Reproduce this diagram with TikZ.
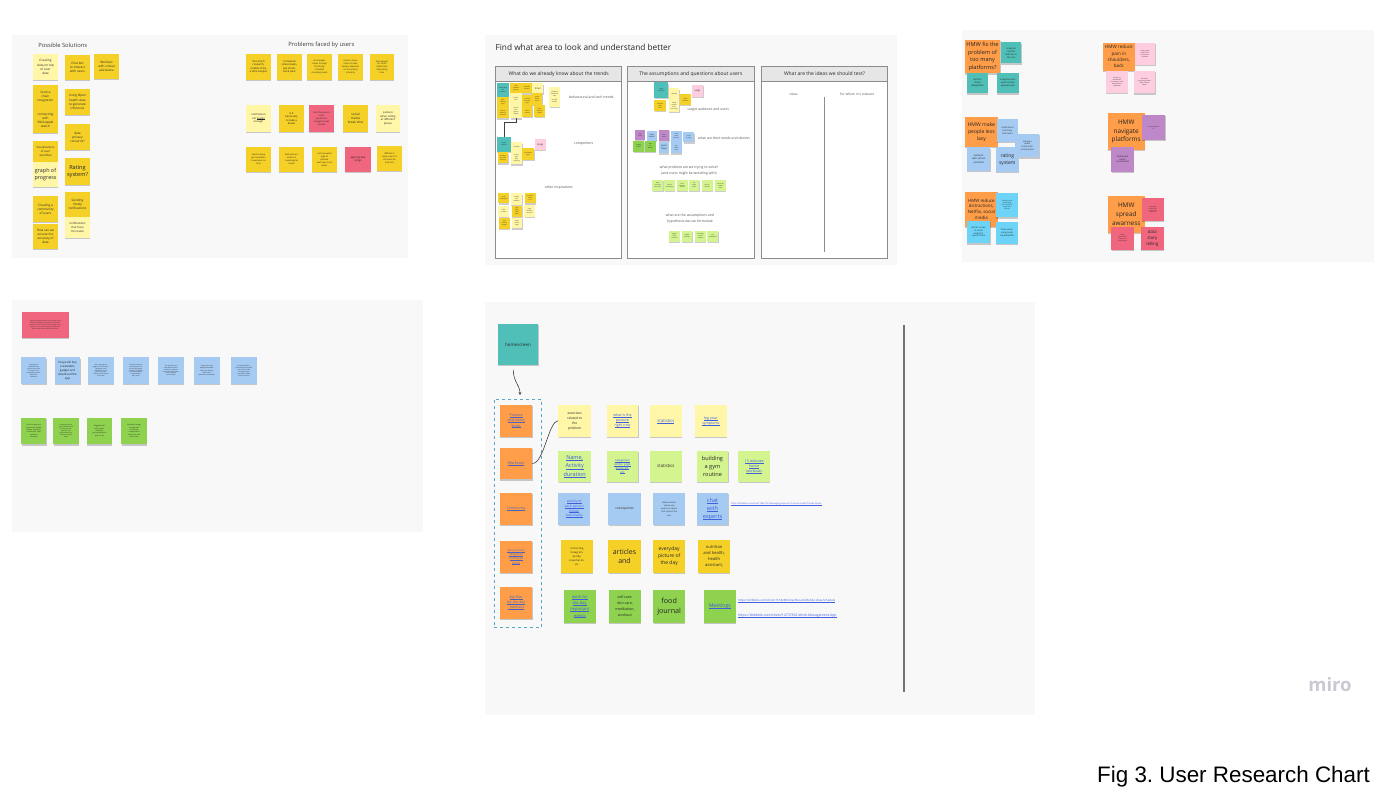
\documentclass[tikz,border=0pt]{standalone}
\usepackage{fontspec}
\setmainfont{Open Sans}
\newfontfamily\capfont{Liberation Sans}
\usetikzlibrary{shadows,arrows.meta}

% sticky colours
\definecolor{cY}{HTML}{F5D128}
\definecolor{cLY}{HTML}{FFF6A8}
\definecolor{cOr}{HTML}{FF9D48}
\definecolor{cTe}{HTML}{4FBFB8}
\definecolor{cLG}{HTML}{D3F48E}
\definecolor{cG}{HTML}{8ED24F}
\definecolor{cBl}{HTML}{A6CBF3}
\definecolor{cCy}{HTML}{6DD3F7}
\definecolor{cPk}{HTML}{FFCDE0}
\definecolor{cRd}{HTML}{F0667E}
\definecolor{cVi}{HTML}{BE87C8}
% board and text colours
\definecolor{board}{HTML}{F8F8F8}
\definecolor{txt}{HTML}{262626}
\definecolor{lnk}{HTML}{3E5FE0}
\definecolor{lnkO}{HTML}{4A63BE}
\definecolor{frameln}{HTML}{8C8C8C}
\definecolor{framehd}{HTML}{E6E6E6}
\definecolor{logo}{HTML}{C9C9D3}

\newlength\lkw
\newcommand\lk[1]{\settowidth\lkw{#1}\rlap{#1}\raisebox{-0.26ex}{\rule{\lkw}{0.06ex}}}

% \stk[style]{name}{x1}{y1}{x2}{y2}{colour}{text}
\newcommand\stk[8][]{\node[stkn,fill=#7,minimum width={#5-#3},minimum height={#6-#4},#1] (#2) at ({(#3+#5)/2},{(#4+#6)/2}) {#8};}

\tikzset{
  stkn/.style={draw=none,inner sep=0.4pt,outer sep=0pt,align=center,text=txt,
    drop shadow={shadow xshift=0.2pt,shadow yshift=-1.3pt,opacity=0.2,fill=black},
    font=\fontsize{2.7}{3.5}\selectfont},
  fs/.style 2 args={font=\fontsize{#1}{#2}\selectfont},
  f0/.style={font=\fontsize{1.5}{1.95}\selectfont},
  f1/.style={font=\fontsize{2.2}{2.9}\selectfont},
  f2/.style={font=\fontsize{2.7}{3.5}\selectfont},
  f3/.style={font=\fontsize{3.1}{4.1}\selectfont},
  lnkt/.style={text=lnk},
  lnko/.style={text=lnkO},
  boardbg/.style={fill=board,draw=none},
  btitle/.style={text=txt!90,font=\fontsize{5.8}{7}\selectfont},
  lbl/.style={text=txt!80,align=center,font=\fontsize{3.4}{4.4}\selectfont},
  framebox/.style={draw=frameln,line width=0.9pt,fill=white},
  framehead/.style={draw=frameln,line width=0.9pt,fill=framehd,text=txt,font=\fontsize{5}{6}\selectfont},
  conn/.style={draw=black!75,line width=0.6pt},
  urlt/.style={anchor=west,text=lnk,inner sep=0pt},
}

\begin{document}
\begin{tikzpicture}[x=1pt,y=-1pt]
\useasboundingbox (0,0) rectangle (1386,800);
\fill[white] (0,0) rectangle (1386,800);

% ---------------- board: solutions and problems ----------------
\fill[boardbg] (12,35) rectangle (408,258);
\node[btitle] (t1) at (62.7,45) {Possible Solutions};
\node[btitle] (t2) at (321.3,45) {Problems faced by users};

\stk[f3]{ps1}{33}{54}{58}{80}{cLY}{Creating\\data on top\\of user\\data}
\stk[f3]{ps2}{65}{55}{90}{80}{cY}{Chat bot\\to interact\\with users}
\stk[f3]{ps3}{94}{54}{119}{79}{cY}{Workout\\with virtual\\assistance}
\stk[f3]{ps4}{33}{85}{58}{108}{cY}{Service\\chain\\integration}
\stk[f3]{ps5}{33}{108}{58}{133}{cY}{connecting\\with\\fitbit/apple\\watch}
\stk[f3]{ps6}{65}{89}{90}{115}{cY}{Using Open\\health data\\to generate\\inference}
\stk[f3]{ps7}{65}{124}{90}{150}{cY}{data\\privacy\\concerns?}
\stk[fs={2.8}{3.8}]{ps8}{33}{141}{58}{162}{cY}{Visualizations\\of user\\workflow}
\stk[fs={5.4}{7.6}]{ps9}{33}{162}{58}{187}{cLY}{graph of\\progress}
\stk[fs={5.6}{7.6}]{ps10}{65}{158}{90}{185}{cY}{Rating\\system?}
\stk[f3]{ps11}{33}{196}{58}{222}{cY}{Creating a\\community\\of users}
\stk[f3]{ps12}{65}{192}{90}{217}{cY}{Sending\\timely\\notifications}
\stk[fs={2.8}{3.8}]{ps13}{65}{217}{90}{238}{cLY}{notifications\\that have\\mini tasks}
\stk[f3]{ps14}{33}{224}{58}{249}{cY}{How can we\\ensure the\\accuracy of\\data}

\stk[f2]{pb1}{246}{54}{271}{80}{cY}{Too much\\research,\\unable to be\\a time keeper}
\stk[f2]{pb2}{277}{54}{302}{80}{cY}{increased\\stress levels,\\eye strain,\\back pain}
\stk[f1]{pb3}{307}{54}{332}{80}{cY}{time keeper\\issues through\\the family\\schedule\\including meals}
\stk[f1]{pb4}{338}{54}{363}{80}{cY}{there is more\\stress to take\\breaks, depends\\on the activity\\intensity}
\stk[f1]{pb5}{370}{54}{394}{80}{cY}{time keeper\\for some\\habits less\\interesting\\time}
\stk[f2]{pb6}{246}{105}{271}{132}{cLY}{notification\\not \lk{buggy}\\enough}
\stk[f2]{pb7}{279}{105}{304}{132}{cY}{is it\\necessary\\to take a\\break}
\stk[f1]{pb8}{309}{105}{334}{132}{cRd}{that the person\\main\\productive\\enough to take\\a break}
\stk[f3]{pb9}{343}{105}{368}{132}{cY}{social\\media\\break time}
\stk[f2]{pb10}{376}{105}{400}{132}{cLY}{posture\\when sitting\\at different\\places}
\stk[f1]{pb11}{246}{147}{271}{172}{cY}{Hard to keep\\up motivation\\to workout on\\time}
\stk[f1]{pb12}{279}{147}{304}{172}{cY}{Bad posture\\results in\\neurological\\issues}
\stk[f1]{pb13}{312}{147}{337}{172}{cY}{not sure what\\type of\\posture\\exercises to do\\when}
\stk[f2]{pb14}{345}{147}{371}{172}{cRd}{appropriate\\songs}
\stk[f1]{pb15}{377}{146}{402}{171}{cY}{difficult to\\keep count of\\the exercise\\and sets}

% ---------------- board: areas to understand ----------------
\fill[boardbg] (485,35) rectangle (897,265);
\node[anchor=west,text=txt,font=\fontsize{8.3}{10}\selectfont] (t3) at (492,47) {Find what area to look and understand better};

\draw[framebox] (495.7,66.7) rectangle (621.7,258);
\node[framehead,minimum width=126,minimum height=14.3,inner sep=0pt] (fa) at (558.7,73.85) {What do we already know about the trends};
\draw[framebox] (627.7,66.7) rectangle (754,258);
\node[framehead,minimum width=126.3,minimum height=14.3,inner sep=0pt] (fb) at (690.85,73.85) {The assumptions and questions about users};
\draw[framebox] (761.7,66.7) rectangle (887.3,258);
\node[framehead,minimum width=125.6,minimum height=14.3,inner sep=0pt] (fc) at (824.5,73.85) {What are the ideas we should test?};

% trends
\stk[f0]{a1}{496.7}{83.3}{509}{96.7}{cTe}{Overlooking\\all\\activities}
\stk[f0]{a2}{510.3}{83.3}{521.7}{93.3}{cY}{daily\\schedule\\planner}
\stk[f0]{a3}{521.7}{83.3}{532.3}{93.3}{cY}{wearable\\trackers}
\stk[fs={2.4}{3}]{a4}{532.3}{83.3}{543.3}{93.3}{cLY}{timer}
\stk[f0]{a5}{496.7}{96.7}{509}{107.7}{cY}{habit\\tracking\\apps}
\stk[f0]{a6}{496.7}{107.7}{509}{118.3}{cY}{remote\\working\\routines}
\stk[f0]{a7}{510.3}{93.3}{521.7}{105}{cLY}{health\\data}
\stk[f0]{a8}{510.3}{105}{521.7}{118.3}{cLY}{screen\\time\\reports\\weekly}
\stk[f0]{a9}{522.3}{95}{532.3}{106.7}{cY}{posture\\reminder\\apps}
\stk[f0]{a10}{522.3}{106.7}{532.3}{116.7}{cY}{online\\classes}
\stk[f0]{a11}{532.3}{93.3}{542.3}{105}{cY}{smart\\watch\\alerts}
\stk[f0]{a12}{534.3}{105}{545}{116.7}{cY}{home\\workout\\videos}
\stk[f0]{a13}{549.3}{87}{560}{107}{cLY}{Evidence\\based self\\care\\\\mindful\\breaks}
\node[lbl] (la1) at (591.3,97.3) {behavioural and tech trends};

\stk[f0]{b1}{496.7}{136.7}{511}{151.7}{cTe}{Target\\audience}
\stk[f0]{b2}{511}{142.3}{522.3}{151.7}{cLY}{Lifestyle}
\stk[f0]{b3}{511}{151.7}{522.3}{164.3}{cLY}{fitness\\apps\\with\\coaching}
\stk[f0]{b4}{497.7}{152.3}{508.3}{163.3}{cY}{students\\and office\\workers}
\stk[f0]{b5}{522.3}{148.3}{534.3}{160}{cY}{meditation\\apps}
\stk[fs={2.4}{3}]{b6}{535}{139}{545.7}{150}{cPk}{vlogs}
\draw[conn] (a8.south) -- ++(0,4) -| (b1.north);
\node[lbl] (la2) at (583.7,143.3) {competitors};
\node[lbl] (la3) at (558.8,187.7) {other inspirations};

\stk[f0]{c1}{498.3}{193.3}{509}{203.3}{cY}{social\\challenges}
\stk[f0]{c2}{511}{193.3}{522.3}{205}{cLY}{streaks\\and\\rewards}
\stk[f0]{c3}{525}{193.3}{535.7}{203.3}{cY}{workout\\music\\lists}
\stk[f0]{c4}{498.3}{205.7}{509}{216.7}{cLY}{calm\\screens}
\stk[f0]{c5}{511.7}{205.7}{522.3}{216.7}{cY}{gym\\apps\\daily\\goals}
\stk[f0]{c6}{524.3}{205}{535}{216.7}{cLY}{yoga\\sessions\\at home}
\stk[f0]{c7}{499}{217.7}{510}{229}{cY}{step\\counter\\badges}
\stk[f0]{c8}{511.7}{217.7}{522.3}{228.3}{cLY}{sleep\\stories\\apps}

% assumptions about users
\stk[f0]{d1}{654.3}{82.3}{668.3}{97.7}{cTe}{Target\\audience}
\stk[f0]{d2}{669}{88.3}{679.3}{100}{cLY}{Lifestyle}
\stk[f0]{d3}{654.3}{100}{666}{111}{cY}{students\\ages\\18--25}
\stk[f0]{d4}{669}{100}{679.3}{111.7}{cLY}{sitting\\at desk\\most\\of the day}
\stk[f0]{d5}{680}{94.3}{691}{105}{cY}{office\\workers}
\stk[fs={2.4}{3}]{d6}{691.7}{85}{703.3}{96.7}{cPk}{vlogs}
\node[lbl] (lb1) at (708.3,109.7) {target audience and users};

\stk[f0]{e1}{635}{130}{645}{140}{cVi}{stay\\active}
\stk[fs={1.9}{2.4}]{e2}{646.7}{131}{656.7}{141}{cBl}{daily\\hassle}
\stk[f0]{e3}{659}{130}{669.3}{141}{cVi}{less\\stress}
\stk[f0]{e4}{671}{131}{681.7}{141.7}{cBl}{keep\\good\\posture}
\stk[f0]{e5}{683.3}{132.3}{694.3}{142.3}{cBl}{more\\energy}
\stk[f0]{e6}{633.3}{141}{644.3}{151.7}{cG}{healthy\\habits}
\stk[f0]{e7}{645}{141}{655.7}{151.7}{cG}{time\\for\\breaks}
\stk[fs={2.3}{2.9}]{e8}{659}{142.3}{669}{153.3}{cBl}{good\\sleep}
\stk[f0]{e9}{671}{142.3}{681.7}{153.3}{cBl}{less\\screen\\time}
\node[lbl] (lb2) at (724,138.3) {what are their needs and desires};

\node[lbl,font=\fontsize{3.4}{6}\selectfont] (lb3) at (689,170.3) {what problem are we trying to solve?\\(and users might be wrestling with)};
\stk[f0]{g1}{652.3}{180}{663.3}{191}{cLG}{back\\pain and\\eye strain}
\stk[f0]{g2}{664.3}{180}{675}{191}{cLG}{lack of\\motivation}
\stk[f0]{g3}{676.7}{180}{687.7}{191}{cLG}{time\\keeping\\issues}
\stk[f0]{g4}{689}{180}{699.3}{191}{cLG}{too\\many\\apps}
\stk[f0]{g5}{701.7}{180}{712.7}{191}{cLG}{lack of\\breaks}
\stk[f0]{g6}{715}{180}{726}{191}{cLG}{too much\\screen\\time}
\node[lbl,font=\fontsize{3.4}{6}\selectfont] (lb4) at (690,218.3) {what are the assumptions and\\hypothesis we can formulate};
\stk[f0]{h1}{669}{231}{680}{241.7}{cLG}{people\\want\\routines}
\stk[f0]{h2}{681.7}{231}{692.3}{241.7}{cLG}{simple\\tracking}
\stk[f0]{h3}{695}{231}{706}{241.7}{cLG}{less daily\\stress\\matters}
\stk[f0]{h4}{707.3}{231}{718.3}{241.7}{cLG}{one\\dashboard}

% ideas to test
\node[lbl,font=\fontsize{3.2}{4}\selectfont] (lc1) at (793.7,94) {Ideas};
\node[lbl,font=\fontsize{3.2}{4}\selectfont] (lc2) at (857,94) {For whom it is relevant};
\draw[draw=frameln,line width=0.8pt] (824.3,96.7) -- (824.3,251.7);

% ---------------- board: how might we ----------------
\fill[boardbg] (962,30) rectangle (1374,262);
\stk[fs={5.6}{7.6}]{hmw1}{964.7}{40}{1000.3}{73.3}{cOr}{HMW fix the\\problem of\\too many\\platforms?}
\stk[fs={2.3}{3}]{m1}{1001}{42.3}{1021.3}{63.3}{cTe}{Integrate\\specific\\features to\\the one}
\stk[fs={2.5}{3.3}]{m2}{967}{72.7}{988}{93.3}{cTe}{Service\\chain\\integration}
\stk[f1]{m3}{997}{72.7}{1018.7}{93.3}{cTe}{Integrated with\\watch/mobile\\app/wearable}

\stk[fs={5.1}{6.8}]{hmw2}{964.7}{117.3}{998}{146.7}{cOr}{HMW make\\people less\\lazy}
\stk[f1]{n1}{997}{119.3}{1018}{141.7}{cBl}{notifications\\that have\\mini tasks}
\stk[f1]{n2}{1015.3}{134}{1039.3}{157.3}{cBl}{Having a\\audio\\channel for\\communities}
\stk[fs={2.5}{3.4}]{n3}{967}{147.3}{990.3}{170.7}{cBl}{workout\\with virtual\\assistant}
\stk[fs={5}{6.6}]{n4}{996}{147.3}{1018.7}{171.7}{cBl}{rating\\system}

\stk[fs={4.4}{5.9}]{hmw3}{964.7}{191.7}{998}{226.7}{cOr}{HMW reduce\\distractions,\\Netflix, social\\media}
\stk[f0]{o1}{996}{193.3}{1018}{217.3}{cCy}{Tracking social\\media usage\\and restricting\\usage after\\set time}
\stk[f1]{o2}{967}{220.7}{990.3}{243.3}{cCy}{Blocks screen\\to social\\media for\\specific time}
\stk[f1]{o3}{996}{221.7}{1018}{244}{cCy}{Timer when\\using social\\media/Netflix}

\stk[fs={4.6}{6.3}]{hmw4}{1103}{42.7}{1134.7}{70.7}{cOr}{HMW reduce\\pain in\\shoulders,\\back}
\stk[f0]{p1}{1134.7}{42.7}{1155.3}{65}{cPk}{using a wrist\\fit sensor for\\bad posture\\detection}
\stk[f0]{p2}{1106}{70.7}{1128}{92.7}{cPk}{using AI to\\recommend\\according to time,\\workouts and\\meditation}
\stk[f0]{p3}{1133.7}{70.7}{1155.3}{93.3}{cPk}{Air shoes,\\using a ergonomic\\desk, smartly\\advice}

\stk[fs={6.4}{8.8}]{hmw5}{1107.7}{113.3}{1144.7}{150}{cOr}{HMW\\navigate\\platforms}
\stk[f0]{q1}{1142}{115}{1165.3}{140}{cVi}{Conversational\\AI}
\stk[f1]{q2}{1111.3}{146.7}{1133.7}{171.7}{cVi}{Dashboard\\colour\\coordinated}

\stk[fs={6.4}{8.8}]{hmw6}{1107.7}{196}{1144.7}{232.7}{cOr}{HMW\\spread\\awarness}
\stk[f0]{r1}{1142}{198.3}{1163.7}{220.7}{cRd}{using open\\health data\\to generate\\inference}
\stk[f0]{r2}{1111.3}{226.7}{1133.7}{250}{cRd}{rating\\system and\\inclusion of\\social media}
\stk[fs={4.3}{5.8}]{r3}{1141}{226.7}{1163.7}{250}{cRd}{data\\story\\telling}

% ---------------- board: persona ----------------
\fill[boardbg] (12,300) rectangle (423,532);
\stk[f0]{w1}{22}{312.3}{68.7}{337.7}{cRd}{Tanya is a college student. She usually sits at\\desk, and sitting and watching at a desk for\\long hours. She says that she is sitting on her\\phone too. Tanya is studying software and\\wants to be more healthy than before}

\stk[f0]{u1}{21.3}{357.3}{46.3}{384}{cBl}{Tanya gets to\\know about the\\posture issues and\\back pain after\\long study sessions,\\before the\\deadlines}
\stk[fs={2.9}{3.8}]{u2}{54.7}{357.3}{80.3}{384}{cBl}{Tanya will buy\\a wearable\\gadget and\\download the\\app}
\stk[f0]{u3}{88}{357.3}{113.7}{384}{cBl}{After opening the\\gadget in homescreen,\\Tanya gets some\\useful info on the\\posture and the\\relevant notifications\\on her day}
\stk[f0]{u4}{123}{357.3}{148.7}{384}{cBl}{Tanya will now start\\the workouts and\\check the progress\\through the gadget\\and everyday she\\completes her\\daily goals}
\stk[f0]{u5}{158}{357.3}{183.7}{384}{cBl}{The app will send\\reminders from the\\statistics of posture\\issues and take breaks\\while studying\\and working}
\stk[fs={1.7}{2.3}]{u6}{194}{357.3}{219.7}{384}{cBl}{Tanya can now\\display workouts\\with her friends\\and in the\\workout community}
\stk[f0]{u7}{231}{357.3}{257}{384}{cBl}{Tanya also likes to\\have a balance and take\\care of her health\\through the app\\and shares results\\with her friends}

\stk[fs={1.7}{2.3}]{v1}{21.3}{417.7}{46.3}{444.3}{cG}{After the personal\\improve the weight,\\height, frequency\\of workouts, sleep\\cycle and\\schedules}
\stk[f0]{v2}{53.3}{417.7}{78.7}{444.3}{cG}{Depending on the\\type of workout and\\the day, the app\\gives her the\\right workout and\\reminds to drink\\water}
\stk[fs={1.7}{2.3}]{v3}{87}{417.7}{112}{444.3}{cG}{Bagged initial\\information\\helps the\\personalizing the\\app for her}
\stk[fs={1.7}{2.3}]{v4}{121.3}{417.7}{147}{444.3}{cG}{Motivate through\\the app with\\her friends,\\compare with\\each other and\\work more}

% ---------------- board: app structure ----------------
\fill[boardbg] (485,302) rectangle (1035,715);
\stk[fs={4.4}{5.6}]{hs}{497.7}{324}{538.3}{365}{cTe}{homescreen}
\node[draw=cCy!80!black,dashed,line width=0.7pt,minimum width=47.4,minimum height=228.3,inner sep=0pt] (grp) at (518,513.15) {};
\draw[conn,-{Stealth[length=3.2pt,width=2.8pt]}] ([shift={(-4.7pt,-5pt)}]hs.south) .. controls +(0,12) and +(0,-10) .. ([shift={(2pt,3.5pt)}]grp.north);

\stk[fs={3.6}{5.2},lnko]{sec1}{500}{405}{532.3}{436.7}{cOr}{\lk{Posture}\\\lk{and stress}\\\lk{levels}}
\stk[fs={3.7}{5},lnko]{sec2}{500}{447.7}{532.3}{479.3}{cOr}{\lk{Workouts}}
\stk[fs={3.4}{5},lnko]{sec3}{500}{492.7}{532.3}{525}{cOr}{\lk{Community}}
\stk[fs={2.8}{4.2},lnko]{sec4}{500}{541}{532.3}{572.7}{cOr}{\lk{Service Chain}\\\lk{Integration}\\\lk{and Social}\\\lk{Media}}
\stk[fs={3.5}{5},lnko]{sec5}{500}{586.7}{532.3}{619}{cOr}{\lk{My Plan}\\\lk{for the day}\\\lk{- Statistics}}

\stk[fs={3.3}{4.9}]{k1}{558.3}{405}{591}{436.7}{cLY}{exercises\\related to\\the\\problem}
\stk[fs={3.6}{5.1},lnkt]{k2}{606.7}{405}{638.3}{436.7}{cLY}{\lk{what is the}\\\lk{posture}\\\lk{right now}}
\stk[fs={4.2}{5},lnkt]{k3}{650}{405}{681.7}{436.7}{cLY}{\lk{statistics}}
\stk[fs={3.6}{5},lnkt]{k4}{695}{405}{726.7}{436.7}{cLY}{\lk{log your}\\\lk{symptoms}}
\draw[conn] (sec2.east) .. controls +(12,0) and +(-10,0) .. (k1.west);

\stk[fs={5.5}{8.2},lnkt]{k5}{558.3}{451}{591}{481.7}{cLG}{\lk{Name,}\\\lk{Activity}\\\lk{duration}}
\stk[fs={2.9}{3.9},lnkt]{k6}{606.7}{451}{638.3}{481.7}{cLG}{\lk{categories:}\\\lk{cardio, yoga,}\\\lk{dance etc.}\\\lk{etc}}
\stk[fs={4.3}{5.4}]{k7}{650}{451}{681.7}{481.7}{cLG}{statistics}
\stk[fs={5.6}{8}]{k8}{696.7}{451}{728.3}{481.7}{cLG}{building\\a gym\\routine}
\stk[fs={3.6}{5.3},lnkt]{k9}{738.3}{451}{770}{481.7}{cLG}{\lk{15 minutes}\\\lk{home}\\\lk{workouts}}

\stk[fs={3.3}{4.6},lnkt]{k10}{558.3}{492.7}{590}{525}{cBl}{\lk{activity of}\\\lk{each person}\\\lk{shown}\\\lk{statistically}}
\stk[fs={3.2}{4}]{k11}{608.3}{492.7}{640.7}{525}{cBl}{coins/points}
\stk[fs={2.1}{3.2}]{k12}{653.3}{492.7}{685}{525}{cBl}{follow articles,\\videos and\\audios on topics\\that interest the\\user}
\stk[fs={5.6}{8.3},lnkt]{k13}{696.7}{492.7}{728.3}{525}{cBl}{\lk{chat}\\\lk{with}\\\lk{experts}}
\node[urlt,font=\fontsize{2.2}{3}\selectfont] (url1) at (731,504) {\lk{https://dribbble.com/shots/14891723-Managing-aspects-of-mental-health-Trends-Studio}};

\stk[fs={2.6}{3.9}]{k14}{561}{540}{592.7}{572.7}{cY}{connecting\\instagram,\\spotify,\\snapchat etc\\etc}
\stk[fs={7}{9.6}]{k15}{608.3}{540}{640.7}{572.7}{cY}{articles\\and}
\stk[fs={5}{7.3}]{k16}{653.3}{540}{685}{572.7}{cY}{everyday\\picture of\\the day}
\stk[fs={4.1}{5.9}]{k17}{698.3}{540}{730}{572.7}{cY}{nutrition\\and health,\\health\\assistant,}

\stk[fs={4}{6.3},lnkt]{k18}{564}{590}{595.7}{622.7}{cG}{\lk{work for}\\\lk{the day,}\\\lk{important}\\\lk{events}}
\stk[fs={3.6}{5.9}]{k19}{609}{590}{640.7}{622.7}{cG}{self care:\\skin care,\\meditation,\\workout}
\stk[fs={7.2}{9.6}]{k20}{653.3}{590}{685}{622.7}{cG}{food\\journal}
\stk[fs={5.2}{6},lnkt]{k21}{704}{590}{735.7}{622.7}{cG}{\lk{Meetings}}
\node[urlt,font=\fontsize{2.9}{3.6}\selectfont] (url2) at (738,600.7) {\lk{https://dribbble.com/shots/15182893-Dashboard-Mobile-View-Schedule}};
\node[urlt,font=\fontsize{3.4}{4}\selectfont] (url3) at (738,615.7) {\lk{https://dribbble.com/shots/14737302-Work-Management-App}};

\draw[draw=black!55,line width=1.2pt] (904,325) -- (904,692);

% ---------------- logo and caption ----------------
\node[text=logo,font=\fontsize{18.5}{22}\selectfont\bfseries] (logo) at (1330,685) {miro};
\node[anchor=base east,text=black,font=\capfont\fontsize{22.4}{27}\selectfont,inner sep=0pt] (cap) at (1370,782) {Fig 3.\ User Research Chart};
\end{tikzpicture}
\end{document}
